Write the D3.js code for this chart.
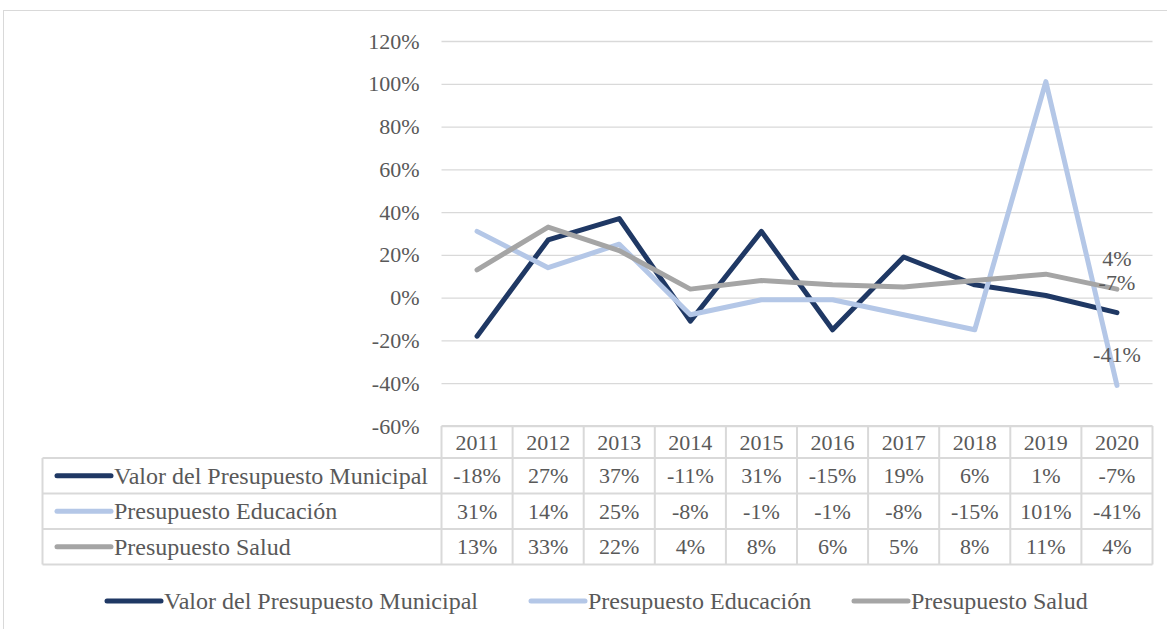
<!DOCTYPE html>
<html>
<head>
<meta charset="utf-8">
<script src="https://cdn.jsdelivr.net/npm/d3@7"></script>
<style>
  body { margin: 0; background: #fff; }
  svg text { font-family: "Liberation Serif", Tinos, "Times New Roman", Times, "DejaVu Serif", serif !important; fill: #595959; }
</style>
</head>
<body>
<div id="chart"></div>
<script>
// data
var years = ["2011", "2012", "2013", "2014", "2015", "2016", "2017", "2018", "2019", "2020"];
var seriesNames = ["Valor del Presupuesto Municipal", "Presupuesto Educación", "Presupuesto Salud"];
var municipal = [-0.18, 0.27, 0.37, -0.11, 0.31, -0.15, 0.19, 0.06, 0.01, -0.07];
var educacion = [0.31, 0.14, 0.25, -0.08, -0.01, -0.01, -0.08, -0.15, 1.01, -0.41];
var salud = [0.13, 0.33, 0.22, 0.04, 0.08, 0.06, 0.05, 0.08, 0.11, 0.04];
var yTicks = [-0.6, -0.4, -0.2, 0, 0.2, 0.4, 0.6, 0.8, 1.0, 1.2];
var colors = ["#1f3864", "#b4c7e7", "#a5a5a5"];

var series = [municipal, educacion, salud].map(function(v, i) {
    return { name: seriesNames[i], values: v, color: colors[i] };
});

var width = 1167, height = 629;
var plot = { left: 441.5, right: 1152.5, top: 41, bottom: 426 };
var tableLeft = 42.5;
var rowH = 35.5, headH = 32;
var fs = 22;      // numbers
var fsName = 24;  // series names

var svg = d3.select("#chart").append("svg")
    .attr("width", width)
    .attr("height", height);

// outer frame
svg.append("rect")
    .attr("x", 3.5).attr("y", 10.5)
    .attr("width", width + 10).attr("height", height + 10)
    .style("fill", "none")
    .style("stroke", "#d9d9d9");

var x = d3.scalePoint()
    .domain(years)
    .range([plot.left, plot.right])
    .padding(0.5);

var y = d3.scaleLinear()
    .domain([-0.6, 1.2])
    .range([plot.bottom, plot.top]);

// excel style percent, plain hyphen for negatives
var pct = function(v) { return d3.format(".0%")(v).replace("\u2212", "-"); };

// y axis with gridlines
var yAxis = d3.axisLeft(y)
    .tickValues(yTicks)
    .tickFormat(pct)
    .tickSize(-(plot.right - plot.left))
    .tickPadding(22);

var gy = svg.append("g")
    .attr("transform", "translate(" + plot.left + ",0)")
    .call(yAxis)
    .attr("font-family", null)
    .attr("font-size", null);
gy.select(".domain").remove();
gy.selectAll(".tick line").style("stroke", "#d9d9d9").style("stroke-width", 1.3);
gy.selectAll(".tick text")
    .style("font-size", fs + "px")
    .attr("dy", "0.32em");

// lines
var line = d3.line()
    .x(function(d, i) { return x(years[i]); })
    .y(function(d) { return y(d); });

svg.selectAll(".series")
    .data(series)
    .enter().append("path")
    .attr("class", "series")
    .attr("d", function(d) { return line(d.values); })
    .style("fill", "none")
    .style("stroke", function(d) { return d.color; })
    .style("stroke-width", 5)
    .style("stroke-linejoin", "round")
    .style("stroke-linecap", "round");

// labels on last point
var last = years.length - 1;
svg.selectAll(".lastlabel")
    .data(series)
    .enter().append("text")
    .attr("class", "lastlabel")
    .attr("x", function(d) { return x(years[last]); })
    .attr("y", function(d) { return y(d.values[last]) - 23; })
    .attr("text-anchor", "middle")
    .style("font-size", fs + "px")
    .text(function(d) { return pct(d.values[last]); });

// data table
var table = svg.append("g").attr("class", "table");
var step = x.step();
var gridColor = "#d9d9d9";

// header
table.selectAll(".head")
    .data(years)
    .enter().append("text")
    .attr("class", "head")
    .attr("x", function(d) { return x(d); })
    .attr("y", plot.bottom + headH / 2)
    .attr("dy", "0.35em")
    .attr("text-anchor", "middle")
    .style("font-size", fs + "px")
    .text(function(d) { return d; });

var rowsTop = plot.bottom + headH;

// horizontal rules
var hLines = [plot.bottom, rowsTop, rowsTop + rowH, rowsTop + 2 * rowH, rowsTop + 3 * rowH];
table.selectAll(".hrule")
    .data(hLines)
    .enter().append("line")
    .attr("x1", function(d, i) { return i == 0 ? plot.left : tableLeft; })
    .attr("x2", plot.right)
    .attr("y1", function(d) { return d; })
    .attr("y2", function(d) { return d; })
    .style("stroke", gridColor)
    .style("stroke-width", 2);

// vertical rules
var vLines = [plot.left].concat(years.map(function(d) { return x(d) + step / 2; }));
table.selectAll(".vrule")
    .data(vLines)
    .enter().append("line")
    .attr("x1", function(d) { return d; })
    .attr("x2", function(d) { return d; })
    .attr("y1", plot.bottom)
    .attr("y2", rowsTop + 3 * rowH)
    .style("stroke", gridColor)
    .style("stroke-width", 2);

table.append("line")
    .attr("x1", tableLeft).attr("x2", tableLeft)
    .attr("y1", rowsTop).attr("y2", rowsTop + 3 * rowH)
    .style("stroke", gridColor)
    .style("stroke-width", 2);

var rows = table.selectAll(".row")
    .data(series)
    .enter().append("g")
    .attr("class", "row")
    .attr("transform", function(d, i) { return "translate(0," + (rowsTop + i * rowH + rowH / 2) + ")"; });

rows.append("line")
    .attr("x1", 57).attr("x2", 111)
    .style("stroke", function(d) { return d.color; })
    .style("stroke-width", 5)
    .style("stroke-linecap", "round");

rows.append("text")
    .attr("x", 114)
    .attr("dy", "0.33em")
    .style("font-size", fsName + "px")
    .text(function(d) { return d.name; });

rows.selectAll(".cell")
    .data(function(d) { return d.values; })
    .enter().append("text")
    .attr("class", "cell")
    .attr("x", function(d, i) { return x(years[i]); })
    .attr("dy", "0.35em")
    .attr("text-anchor", "middle")
    .style("font-size", fs + "px")
    .text(function(d) { return pct(d); });

// legend
var legendX = [107, 531, 854];
var legend = svg.selectAll(".legend")
    .data(series)
    .enter().append("g")
    .attr("class", "legend")
    .attr("transform", function(d, i) { return "translate(" + legendX[i] + ",601)"; });

legend.append("line")
    .attr("x1", 0).attr("x2", 54)
    .style("stroke", function(d) { return d.color; })
    .style("stroke-width", 5)
    .style("stroke-linecap", "round");

legend.append("text")
    .attr("x", 57)
    .attr("dy", "0.33em")
    .style("font-size", fsName + "px")
    .text(function(d) { return d.name; });
</script>
</body>
</html>
